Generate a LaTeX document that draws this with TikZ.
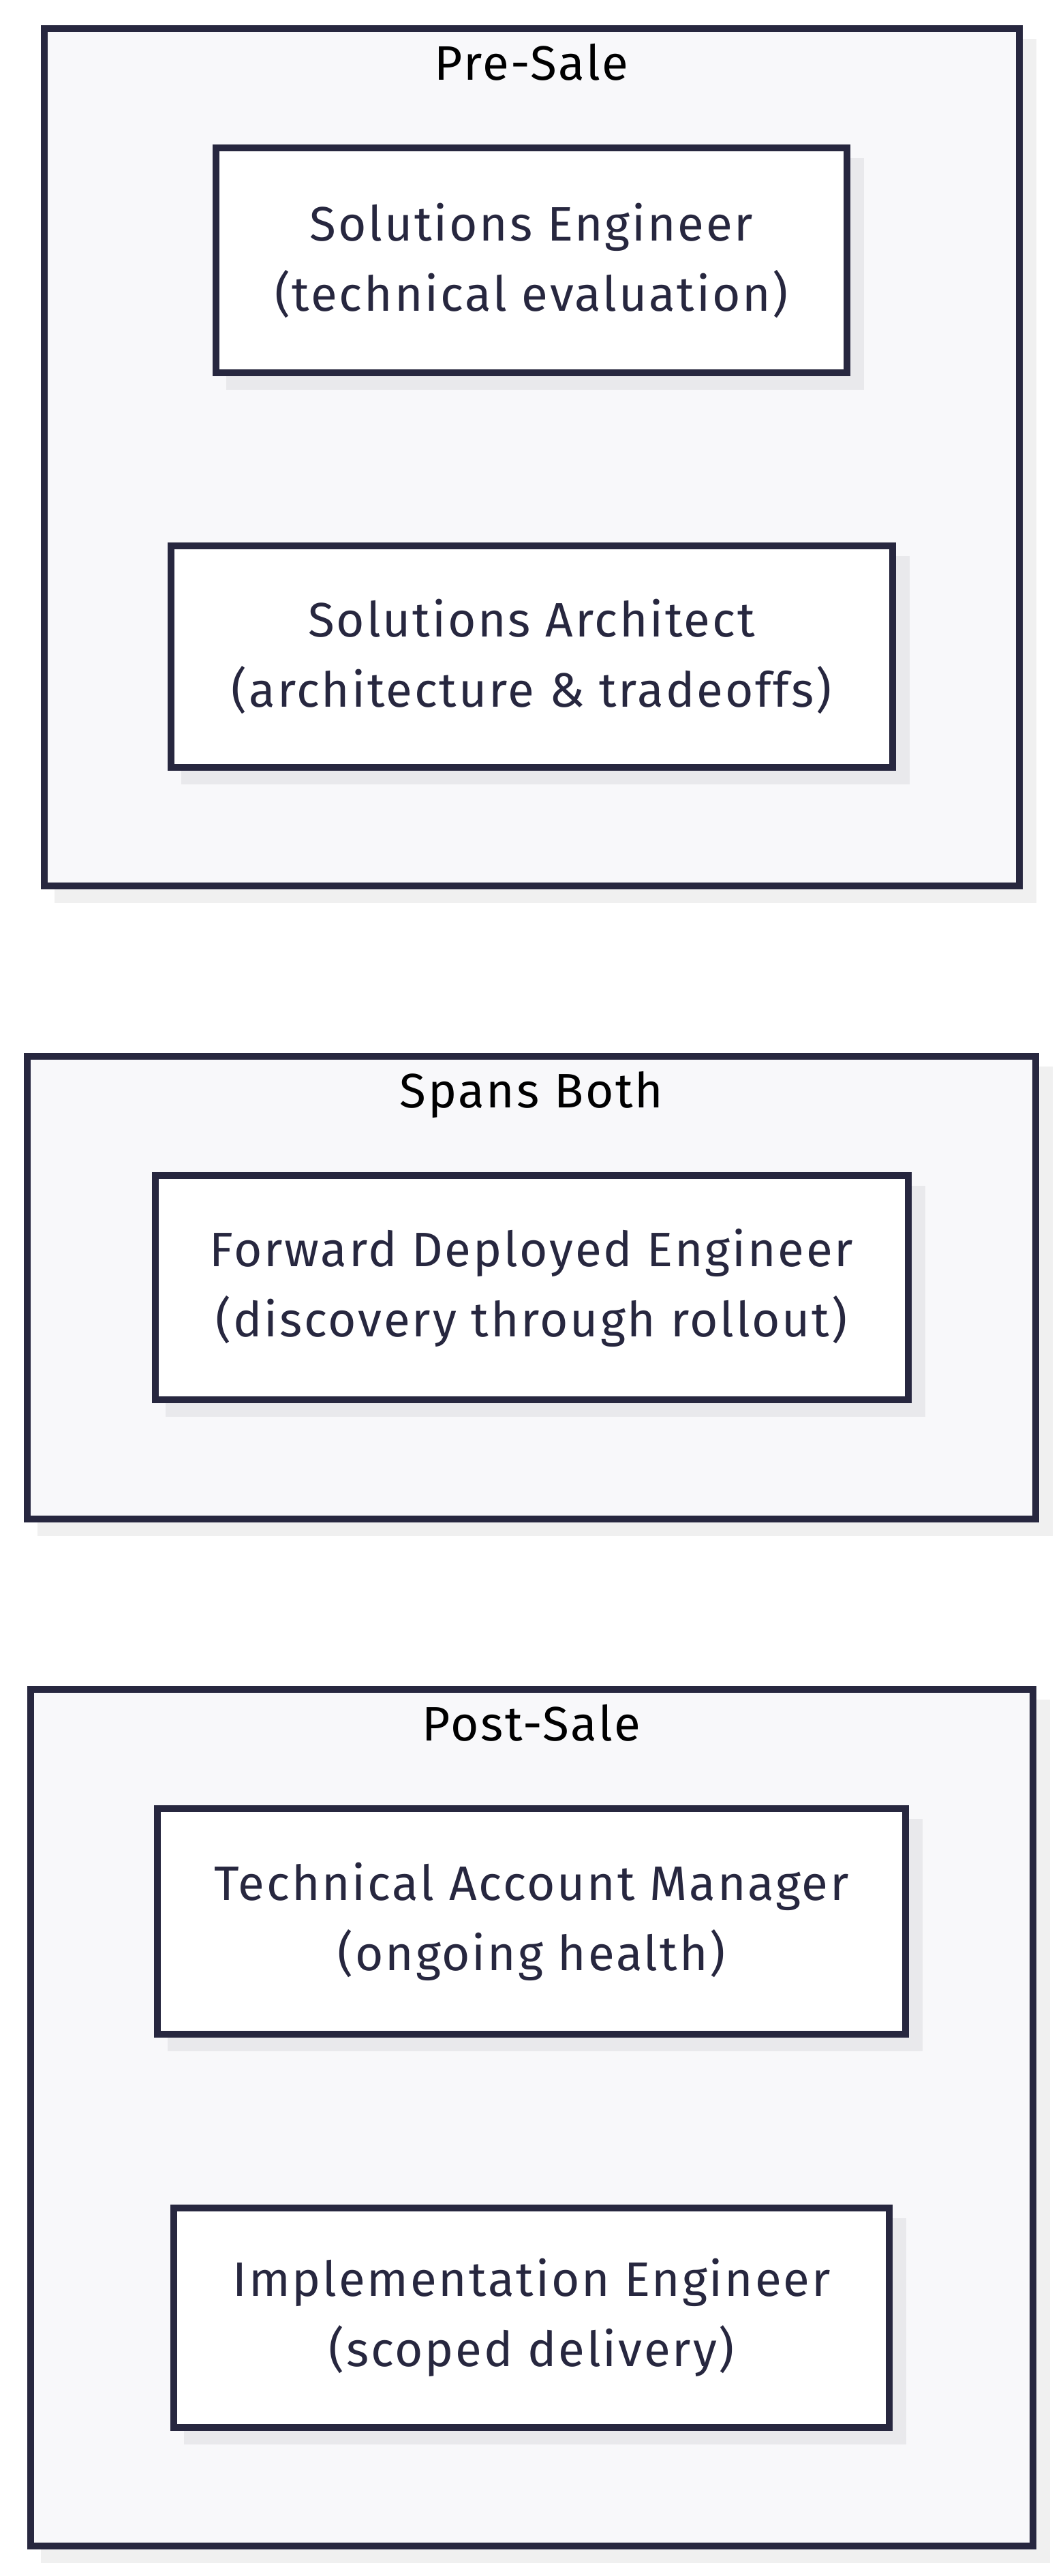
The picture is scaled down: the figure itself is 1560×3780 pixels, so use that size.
\documentclass[tikz,border=0pt]{standalone}
\usepackage{fontspec}
\setmainfont[LetterSpace=4]{Fira Sans}
\usetikzlibrary{shadows}

\begin{document}
\begin{tikzpicture}[x=1pt, y=-1pt]

    % Colours of the engagement lanes
    \definecolor{edgecol}{RGB}{39,39,63}
    \definecolor{lanefill}{RGB}{248,248,250}
    \definecolor{laneshade}{RGB}{240,240,240}
    \definecolor{roleshade}{RGB}{233,233,236}

    % Common styles
    \tikzset{
        lane/.style={draw=edgecol, line width=10pt, fill=lanefill,
            outer sep=0pt, inner sep=0pt,
            drop shadow={fill=laneshade, draw=laneshade, line width=10pt,
                opacity=1, shadow xshift=20pt, shadow yshift=-20pt}},
        lanetitle/.style={font=\fontsize{71}{85}\selectfont, text=black, anchor=base},
        role/.style={draw=edgecol, line width=10pt, fill=white,
            outer sep=0pt, inner sep=0pt, text=edgecol, align=center,
            font=\fontsize{71}{103}\selectfont,
            drop shadow={fill=roleshade, draw=roleshade, line width=10pt,
                opacity=1, shadow xshift=20pt, shadow yshift=-20pt}}
    }

    \useasboundingbox (0,0) rectangle (1560,3780);

    % ======================= Pre-Sale =======================
    \node[lane, minimum width=1431pt, minimum height=1258pt] (presale) at (780,671) {};
    \node[lanetitle] (presaletitle) at ([yshift=-75pt]presale.north) {Pre-Sale};
    \node[role, minimum width=926pt, minimum height=330pt] (soleng) at (780,382)
        {Solutions Engineer\\(technical evaluation)};
    \node[role, minimum width=1059pt, minimum height=325pt] (solarch) at (780,963.5)
        {Solutions Architect\\(architecture \& tradeoffs)};

    % ======================= Spans Both =====================
    \node[lane, minimum width=1480pt, minimum height=679pt] (spans) at (780,1889.5) {};
    \node[lanetitle] (spanstitle) at ([yshift=-75pt]spans.north) {Spans Both};
    \node[role, minimum width=1105pt, minimum height=329pt] (fwdeng) at (780,1889.5)
        {Forward Deployed Engineer\\(discovery through rollout)};

    % ======================= Post-Sale ======================
    \node[lane, minimum width=1471pt, minimum height=1257pt] (postsale) at (780,3107.5) {};
    \node[lanetitle] (postsaletitle) at ([yshift=-75pt]postsale.north) {Post-Sale};
    \node[role, minimum width=1098pt, minimum height=331pt] (tam) at (780,2819.5)
        {Technical Account Manager\\(ongoing health)};
    \node[role, minimum width=1050pt, minimum height=322pt] (impleng) at (780,3401)
        {Implementation Engineer\\(scoped delivery)};

\end{tikzpicture}
\end{document}
